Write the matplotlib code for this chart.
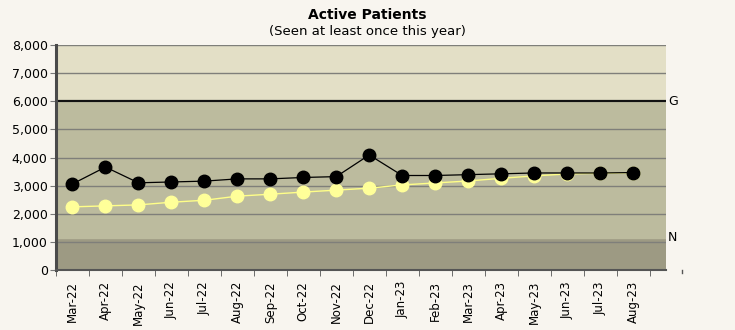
import numpy as np
import matplotlib.pyplot as plt
from matplotlib.transforms import blended_transform_factory

# Monthly categories and series values
months = ['Mar-22', 'Apr-22', 'May-22', 'Jun-22', 'Jul-22', 'Aug-22', 'Sep-22',
          'Oct-22', 'Nov-22', 'Dec-22', 'Jan-23', 'Feb-23', 'Mar-23', 'Apr-23',
          'May-23', 'Jun-23', 'Jul-23', 'Aug-23']
active = [3060, 3660, 3100, 3130, 3160, 3240, 3240, 3290, 3320, 4090,
          3360, 3360, 3390, 3420, 3450, 3450, 3450, 3465]
prior = [2245, 2280, 2315, 2410, 2480, 2625, 2695, 2770, 2840, 2910,
         3025, 3095, 3165, 3260, 3345, 3415, 3440, 3460]

goal = 6000
norm = 1150
y_ticks = [0, 1000, 2000, 3000, 4000, 5000, 6000, 7000, 8000]

fig = plt.figure(figsize=(7.35, 3.3), dpi=100, facecolor='#f8f5ef')
ax = fig.add_axes([56 / 735, 1 - 270 / 330, 610 / 735, 225 / 330])

x = np.arange(len(months))

# Background bands
ax.axhspan(0, norm, color='#9d9a83', zorder=0)
ax.axhspan(norm, goal, color='#bcbb9e', zorder=0)
ax.axhspan(goal, 8000, color='#e3dfc6', zorder=0)

for v in y_ticks:
    if v in (0, goal):
        continue
    ax.axhline(v, color='#7f7f7a', lw=1, zorder=1)
ax.axhline(goal, color='#111111', lw=1.6, zorder=2)

ax.plot(x, prior, color='#ffff88', lw=1, marker='o', ms=9,
        mfc='#ffff99', mec='#ffff99', zorder=3)
ax.plot(x, active, color='black', lw=0.9, marker='o', ms=9,
        mfc='black', mec='black', zorder=4)

ax.set_xlim(-0.5, 18.0)
ax.set_ylim(0, 8000)
ax.set_yticks(y_ticks)
ax.set_yticklabels([f'{v:,}' for v in y_ticks], fontsize=9)
ax.set_xticks(x)
ax.set_xticklabels(months, rotation=90, fontsize=8.5)
ax.set_xticks(np.arange(-0.5, 18.0, 1.0), minor=True)
ax.tick_params(axis='x', which='major', length=0, pad=8)
ax.tick_params(axis='x', which='minor', length=4, color='#555555')
ax.tick_params(axis='y', length=4, color='#777777', pad=2)

for s in ['top', 'right']:
    ax.spines[s].set_visible(False)
ax.spines['left'].set_color('#4a4a4a')
ax.spines['left'].set_linewidth(2.2)
ax.spines['bottom'].set_color('#555555')
ax.spines['bottom'].set_linewidth(1.5)

# stray tick beyond the plot area
tr = blended_transform_factory(ax.transData, ax.transAxes)
ax.plot([18.5, 18.5], [0, -0.015], transform=tr, color='#555555',
        lw=1, clip_on=False)

ax.text(1.003, goal, 'G', transform=blended_transform_factory(ax.transAxes, ax.transData),
        va='center', ha='left', fontsize=9)
ax.text(1.003, norm, 'N', transform=blended_transform_factory(ax.transAxes, ax.transData),
        va='center', ha='left', fontsize=9)

fig.text(367 / 735, 1 - 15 / 330, 'Active Patients', ha='center', va='center',
         fontsize=10, fontweight='bold')
fig.text(367 / 735, 1 - 32 / 330, '(Seen at least once this year)', ha='center',
         va='center', fontsize=9.5)

fig.savefig('out.png', dpi=100, facecolor=fig.get_facecolor())
